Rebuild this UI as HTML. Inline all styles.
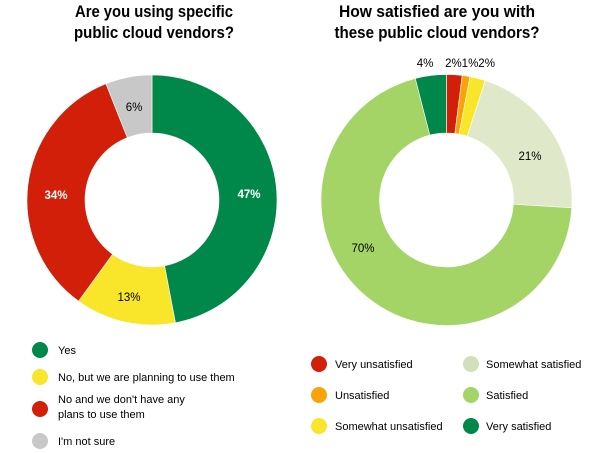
<!DOCTYPE html>
<html><head><meta charset="utf-8"><style>
html,body{margin:0;padding:0;background:#fff;}
svg{display:block;font-family:"Liberation Sans",Arial,sans-serif;}
</style></head><body>
<svg id="s" width="600" height="453" viewBox="0 0 600 453" xmlns="http://www.w3.org/2000/svg">
<g font-weight="bold" font-size="17" text-anchor="middle" fill="#000">
<text x="154" y="17" textLength="158" lengthAdjust="spacingAndGlyphs">Are you using specific</text>
<text x="154" y="38" textLength="160" lengthAdjust="spacingAndGlyphs">public cloud vendors?</text>
<text x="437" y="17" textLength="196" lengthAdjust="spacingAndGlyphs">How satisfied are you with</text>
<text x="437" y="38" textLength="205" lengthAdjust="spacingAndGlyphs">these public cloud vendors?</text>
</g>
<g id="donuts"></g>
<g font-size="11.5" text-anchor="middle">
<text x="249" y="198" fill="#fff" font-weight="bold">47%</text>
<text x="129" y="301" fill="#000">13%</text>
<text x="56" y="199" fill="#fff" font-weight="bold">34%</text>
<text x="134" y="111" fill="#000">6%</text>
<text x="425" y="67" fill="#000">4%</text>
<text x="470" y="67" fill="#000">2%1%2%</text>
<text x="530" y="160" fill="#000">21%</text>
<text x="363" y="252" fill="#000">70%</text>
</g>
<g font-size="11" fill="#000">
<circle cx="40" cy="350" r="8" fill="#00884a"/><text x="58" y="354">Yes</text>
<circle cx="40" cy="377" r="8" fill="#f9e52a"/><text x="58" y="381">No, but we are planning to use them</text>
<circle cx="40" cy="409" r="8" fill="#d11f0a"/><text x="58" y="403">No and we don't have any</text><text x="58" y="418">plans to use them</text>
<circle cx="40" cy="441" r="8" fill="#c8c8c8"/><text x="58" y="445">I'm not sure</text>
<circle cx="319" cy="364" r="8" fill="#d11f0a"/><text x="335" y="368">Very unsatisfied</text>
<circle cx="319" cy="395" r="8" fill="#f8a30a"/><text x="335" y="399">Unsatisfied</text>
<circle cx="319" cy="426" r="8" fill="#f9e52a"/><text x="335" y="430">Somewhat unsatisfied</text>
<circle cx="471" cy="364" r="8" fill="#d3dfb8"/><text x="486" y="368">Somewhat satisfied</text>
<circle cx="471" cy="395" r="8" fill="#a3d465"/><text x="486" y="399">Satisfied</text>
<circle cx="471" cy="426" r="8" fill="#00884a"/><text x="486" y="430">Very satisfied</text>
</g>
</svg>
<script>
function donut(cx,cy,R,r,vals,cols){
 var tot=vals.reduce(function(a,b){return a+b},0),a=0,out="";
 vals.forEach(function(v,i){
  var a0=a/tot*2*Math.PI,a1=(a+v)/tot*2*Math.PI;a+=v;
  function p(rad,an){return [(cx+rad*Math.sin(an)).toFixed(2),(cy-rad*Math.cos(an)).toFixed(2)];}
  var L=(a1-a0)>Math.PI?1:0,o0=p(R,a0),o1=p(R,a1),i1=p(r,a1),i0=p(r,a0);
  out+='<path fill="'+cols[i]+'" stroke="#fff" stroke-width="0.6" d="M'+o0+' A'+R+' '+R+' 0 '+L+' 1 '+o1+' L'+i1+' A'+r+' '+r+' 0 '+L+' 0 '+i0+' Z"/>';
 });
 return out;
}
document.getElementById("donuts").innerHTML=
 donut(152,200,125,67,[47,13,34,6],["#00884a","#f9e52a","#d11f0a","#c8c8c8"])+
 donut(446.5,200,125.5,67,[2,1,2,21,70,4],["#d11f0a","#f8a30a","#f9e52a","#dfe8c8","#a3d465","#00884a"]);
</script>
</body></html>
